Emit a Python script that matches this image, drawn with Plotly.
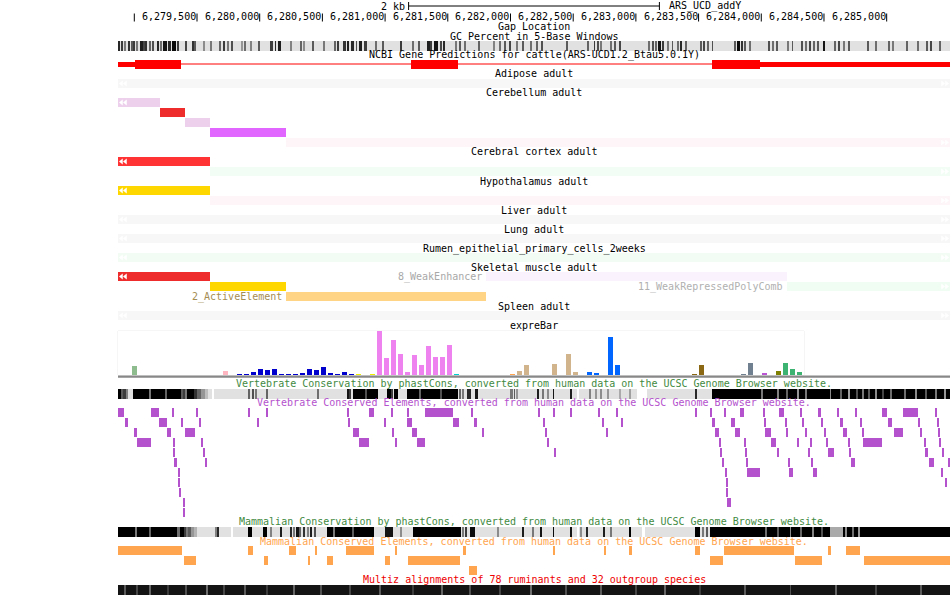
import plotly.graph_objects as go

# ======================= DATA =======================
VIEW_START = 6278870
VIEW_END = 6285505

ruler_ticks = [6279000, 6279500, 6280000, 6280500, 6281000, 6281500, 6282000,
               6282500, 6283000, 6283500, 6284000, 6284500, 6285000]
ruler_labelled = [False] + [True] * 12
scale_bar_bp = 2000
scale_label = "2 kb"
assembly_label = "ARS_UCD_addY"

# NCBI gene prediction (exons + coding region)
gene_exon_starts = [6278870, 6281207, 6283607]
gene_exon_ends = [6279372, 6281582, 6285505]
gene_thick_start = 6279006
gene_thick_end = 6283990

# chromatin-state tracks
chrom_tissues = ["Adipose adult", "Cerebellum adult", "Cerebral cortex adult",
                 "Hypothalamus adult", "Liver adult", "Lung adult",
                 "Rumen_epithelial_primary_cells_2weeks", "Skeletal muscle adult",
                 "Spleen adult"]
chrom_tissue = [0, 1, 1, 1, 1, 1, 2, 2, 3, 3, 4, 5, 6, 7, 7, 7, 7, 7, 8]
chrom_row = [0, 0, 1, 2, 3, 4, 0, 1, 0, 1, 0, 0, 0, 0, 0, 1, 1, 2, 0]
chrom_start = [6278870, 6278870, 6279205, 6279404, 6279604, 6280210, 6278870, 6279604,
               6278870, 6279604, 6278870, 6278870, 6278870, 6278870, 6281805, 6279604,
               6284205, 6280210, 6278870]
chrom_end = [6285505, 6279205, 6279404, 6279604, 6280210, 6285505, 6279604, 6285505,
             6279604, 6285505, 6285505, 6285505, 6285505, 6279604, 6284205, 6280210,
             6285505, 6281805, 6285505]
chrom_color = ["#F7F7F7", "#ECD0EC", "#EE2C2C", "#ECD0EC", "#E066FF", "#FDF5F8",
               "#FF3333", "#F2FDF5", "#FFD700", "#FDF5F8", "#F7F7F7", "#F7F7F7",
               "#F2FCF4", "#EE2C2C", "#FAF2FC", "#FFD700", "#F0FDF3", "#FFD585",
               "#F7F7F7"]
chrom_label = [""] * 14 + ["8_WeakEnhancer", "", "11_WeakRepressedPolyComb",
                           "2_ActiveElement", ""]

# expreBar (tissue expression bars)
expr_idx = [2, 15, 17, 18, 19, 20, 21, 22, 23, 24, 25, 26, 27, 28, 29, 30, 31, 32, 33,
            34, 36, 37, 38, 39, 40, 41, 42, 43, 44, 45, 46, 47, 48, 56, 57, 58, 62,
            64, 65, 67, 68, 70, 71, 82, 83, 89, 90, 92, 94, 95, 96, 97]
expr_val = [9, 4, 1, 1, 3, 6, 5, 6, 1, 1, 1, 2, 6, 5, 8, 2, 1, 3, 1,
            1, 1, 44, 17, 35, 21, 3, 20, 10, 29, 18, 18, 30, 1, 1, 4, 10, 11,
            21, 3, 3, 2, 38, 10, 1, 10, 1, 12, 2, 4, 12, 6, 3]
expr_color = (["#8FBC8F", "#FFB6C1"] + ["#0000CD"] * 17 + ["#EEEE00"] * 2 +
              ["#EE82EE"] * 11 + ["#00CED1", "#FFA54F"] + ["#D2B48C"] * 5 +
              ["#0066FF"] * 4 + ["#8B6914"] * 2 + ["#708090"] * 2 +
              ["#BA55D3", "#808000"] + ["#3CB371"] * 3)

# Vertebrate conserved elements (start, end, row)
vce_start = [6278870, 6279133, 6279303, 6279494, 6279909, 6280053, 6280699, 6280872, 6281050,
             6281177, 6281318, 6281688, 6282222, 6282342, 6282477, 6282700, 6282844, 6283474,
             6283594, 6283705, 6283830, 6284016, 6284141, 6284311, 6284452, 6284606, 6284750,
             6284963, 6285130, 6285388,
             6278926, 6279197, 6279375, 6279518, 6279981, 6280707, 6280994, 6281175, 6281542,
             6281709, 6282262, 6282732, 6282884, 6283607, 6283759, 6284024, 6284192, 6284327,
             6284479, 6284628, 6284790, 6285011, 6285252, 6285404,
             6278998, 6279261, 6279404, 6280744, 6281058, 6281215, 6281775, 6282278, 6282764,
             6283631, 6283791, 6284030, 6284200, 6284351, 6284503, 6284652, 6284806, 6285059,
             6285268, 6285412,
             6279022, 6279311, 6279534, 6280792, 6281082, 6281255, 6282294, 6283665, 6283865,
             6284078, 6284287, 6284391, 6284519, 6284694, 6284811, 6285300, 6285420,
             6279311, 6279550, 6282350, 6283673, 6283873, 6284128, 6284375, 6284532, 6284702,
             6285306, 6285444,
             6279317, 6279566, 6283689, 6283881, 6284216, 6284399, 6284716, 6285338, 6285492,
             6279351, 6283713, 6283886, 6284221, 6284413, 6285436,
             6279351, 6283721, 6285465,
             6279356, 6283721,
             6279391, 6283727,
             6279388]
vce_end = [6278918, 6279197, 6279311, 6279502, 6279917, 6280061, 6280707, 6280912, 6281058,
           6281185, 6281542, 6281696, 6282230, 6282350, 6282485, 6282708, 6282852, 6283482,
           6283602, 6283713, 6283862, 6284024, 6284181, 6284319, 6284476, 6284614, 6284766,
           6285003, 6285250, 6285396,
           6278950, 6279261, 6279383, 6279526, 6279989, 6280715, 6281002, 6281215, 6281590,
           6281733, 6282270, 6282740, 6282892, 6283631, 6283791, 6284032, 6284200, 6284335,
           6284487, 6284652, 6284798, 6285043, 6285260, 6285412,
           6279022, 6279293, 6279484, 6280792, 6281066, 6281255, 6281783, 6282286, 6282772,
           6283663, 6283830, 6284078, 6284208, 6284359, 6284511, 6284684, 6284814, 6285130,
           6285276, 6285420,
           6279133, 6279319, 6279542, 6280872, 6281090, 6281318, 6282302, 6283673, 6283873,
           6284118, 6284295, 6284399, 6284527, 6284702, 6284963, 6285308, 6285428,
           6279319, 6279558, 6282358, 6283681, 6283881, 6284136, 6284383, 6284580, 6284710,
           6285330, 6285452,
           6279341, 6279574, 6283697, 6283889, 6284224, 6284407, 6284748, 6285378, 6285500,
           6279359, 6283721, 6283990, 6284253, 6284444, 6285444,
           6279359, 6283729, 6285481,
           6279372, 6283729,
           6279399, 6283759,
           6279404]
vce_row = ([0] * 30 + [1] * 24 + [2] * 20 + [3] * 17 + [4] * 11 + [5] * 9 + [6] * 6 +
           [7] * 3 + [8] * 2 + [9] * 2 + [10])

# Mammalian conserved elements
mce_start = [6278870, 6279907, 6280234, 6280441, 6280688, 6281079, 6281621, 6282339, 6282746,
             6282945, 6283472, 6283703, 6284532, 6284676,
             6279396, 6280034, 6280393, 6280537, 6280999, 6281183, 6283591, 6284269, 6284819,
             6281669]
mce_end = [6279380, 6279947, 6280290, 6280457, 6280912, 6281095, 6281645, 6282355, 6282762,
           6282969, 6283511, 6284261, 6284556, 6284787,
           6279492, 6280066, 6280401, 6280585, 6281039, 6281597, 6283695, 6284484, 6285505,
           6281733]
mce_row = [0] * 14 + [1] * 9 + [2]

# density tracks: background grey + stripes (start, width bp, grey level 0-255)
gc_bg = 225
gc_start = [6278870, 6278894, 6278918, 6278950, 6278974, 6278990, 6279021, 6279045, 6279077,
            6279093, 6279125, 6279149, 6279181, 6279205, 6279229, 6279269, 6279301, 6279348,
            6279412, 6279468, 6279484, 6279548, 6279604, 6279683, 6279715, 6279747, 6279779,
            6279851, 6279875, 6279923, 6279987, 6280082, 6280122, 6280146, 6280242, 6280329,
            6280353, 6280425, 6280505, 6280593, 6280617, 6280664, 6280704, 6280728, 6280768,
            6280792, 6280832, 6280920, 6280983, 6281119, 6281215, 6281263, 6281334, 6281366,
            6281390, 6281438, 6281462, 6281558, 6281597, 6281637, 6281741, 6281861, 6281916,
            6281956, 6281996, 6282044, 6282092, 6282156, 6282211, 6282251, 6282443, 6282618,
            6282666, 6282690, 6282714, 6282794, 6282826, 6282873, 6283097, 6283129, 6283153,
            6283176, 6283216, 6283256, 6283288, 6283328, 6283352, 6283392, 6283519, 6283543,
            6283575, 6283607, 6283783, 6283807, 6283846, 6283870, 6283910, 6284054, 6284086,
            6284118, 6284213, 6284245, 6284317, 6284349, 6284381, 6284413, 6284445, 6284500,
            6284580, 6284612, 6284652, 6284692, 6284851, 6284907, 6285011, 6285043, 6285162,
            6285242, 6285314, 6285346, 6285425]
gc_width = [16, 8, 8, 8, 8, 8, 8, 24, 8, 8, 8, 8, 16, 8, 32, 24, 32, 8, 8, 8, 8, 8, 8, 8, 8,
            8, 8, 8, 8, 8, 8, 24, 8, 24, 8, 8, 8, 8, 8, 8, 8, 24, 8, 24, 8, 24, 24, 8, 8, 8,
            8, 8, 24, 8, 32, 8, 8, 8, 8, 8, 8, 8, 8, 8, 8, 8, 8, 8, 8, 8, 8, 8, 8, 8, 8, 8,
            8, 8, 8, 8, 8, 24, 8, 8, 8, 8, 8, 8, 8, 8, 8, 8, 8, 24, 8, 8, 8, 8, 8, 8, 8, 8,
            8, 8, 8, 8, 8, 8, 16, 8, 8, 8, 8, 8, 8, 8, 8, 8, 8, 8, 8, 8]
gc_gray = [40, 60, 120, 50, 90, 60, 120, 30, 70, 50, 100, 80, 40, 110, 20, 40, 10, 60, 70,
           50, 90, 140, 120, 100, 60, 120, 80, 150, 110, 130, 90, 60, 40, 30, 130, 100, 140,
           90, 120, 100, 60, 50, 30, 40, 80, 30, 60, 110, 90, 60, 110, 90, 30, 60, 20, 70,
           40, 120, 90, 110, 100, 130, 110, 90, 70, 120, 90, 110, 100, 80, 90, 100, 60, 80,
           120, 110, 90, 70, 110, 80, 100, 20, 60, 120, 90, 110, 40, 100, 90, 70, 100, 80,
           90, 10, 50, 90, 110, 80, 110, 90, 120, 90, 80, 110, 70, 100, 90, 20, 100, 70,
           120, 90, 90, 110, 100, 120, 100, 110, 90, 70, 100]

vcons_bg = 225
vcons_start = [6278870, 6278894, 6278910, 6278934, 6278990, 6279125, 6279245, 6279372, 6279396,
               6279412, 6279420, 6279476, 6279500, 6279532, 6279564, 6279620, 6279907, 6279939,
               6279963, 6280058, 6280457, 6280696, 6280720, 6280744, 6280840, 6281015, 6281055,
               6281071, 6281175, 6281278, 6281438, 6281597, 6281621, 6281653, 6281717, 6281996,
               6282028, 6282044, 6282219, 6282259, 6282299, 6282339, 6282475, 6282531, 6282634,
               6282674, 6282714, 6282770, 6282873, 6282953, 6283009, 6283472, 6283607, 6283998,
               6284014, 6284126, 6284205, 6284285, 6284349, 6284548, 6284628, 6284692, 6284756,
               6284811, 6284851, 6284907, 6284963, 6285027, 6285146, 6285226, 6285306, 6285386,
               6285465]
vcons_width = [24, 16, 24, 16, 382, 8, 8, 16, 8, 8, 56, 24, 32, 32, 24, 16, 8, 8, 8, 8, 8,
               16, 8, 199, 8, 32, 8, 32, 407, 8, 8, 8, 8, 32, 24, 24, 8, 8, 8, 8, 8, 8, 8,
               16, 8, 8, 8, 8, 8, 8, 80, 8, 391, 16, 1491, 8, 8, 8, 8, 8, 8, 8, 16, 8, 16, 8,
               16, 8, 8, 8, 8, 8, 8]
vcons_gray = [0, 90, 60, 130, 0, 120, 100, 90, 60, 120, 0, 50, 100, 150, 190, 255, 100, 80,
              120, 100, 110, 20, 60, 0, 80, 0, 60, 0, 0, 100, 80, 100, 120, 40, 20, 120, 90,
              150, 30, 120, 140, 20, 30, 255, 130, 150, 140, 150, 170, 160, 255, 40, 0, 120,
              0, 130, 100, 150, 120, 140, 100, 160, 80, 120, 90, 140, 70, 110, 110, 140, 90,
              120, 150]

mcons_bg = 225
mcons_start = [6278870, 6279006, 6279125, 6279340, 6279396, 6279412, 6279428, 6279452, 6279476,
               6279643, 6279667, 6279771, 6279907, 6280027, 6280082, 6280162, 6280242, 6280266,
               6280290, 6280321, 6280345, 6280385, 6280401, 6280433, 6280537, 6280585, 6280744,
               6280999, 6281119, 6281223, 6281621, 6281645, 6281677, 6281900, 6282092, 6282179,
               6282243, 6282339, 6282475, 6282531, 6282562, 6282610, 6282738, 6282794, 6282953,
               6283049, 6283472, 6283535, 6283567, 6283591, 6284030, 6284126, 6284229, 6284309,
               6284405, 6284484, 6284548, 6284668, 6284724, 6284772]
mcons_width = [526, 8, 8, 24, 16, 16, 24, 24, 24, 16, 8, 16, 32, 32, 16, 16, 16, 8, 24, 8,
               16, 8, 16, 16, 375, 8, 8, 64, 8, 382, 8, 8, 40, 8, 8, 8, 8, 8, 8, 8, 8, 8, 8,
               8, 8, 24, 40, 8, 8, 1914, 8, 8, 8, 8, 8, 8, 104, 8, 8, 8]
mcons_gray = [0, 120, 100, 110, 60, 120, 90, 150, 180, 130, 40, 255, 0, 0, 130, 30, 40, 120,
              20, 100, 50, 130, 30, 80, 0, 120, 90, 20, 140, 0, 120, 60, 10, 140, 30, 120,
              20, 10, 20, 255, 140, 40, 30, 120, 0, 255, 0, 120, 90, 0, 110, 90, 140, 100,
              130, 80, 170, 140, 110, 150]

multiz_bg = 20
multiz_start = [6278918, 6279014, 6279125, 6279261, 6279412, 6279572, 6279715, 6279875,
                6280058, 6280273, 6280481, 6280720, 6280959, 6281215, 6281446, 6281677,
                6281916, 6282156, 6282435, 6282714, 6282993, 6283232, 6283511, 6283870,
                6284229, 6284588, 6284907, 6285266]
multiz_width = [8] * 28
multiz_gray = [90, 70, 100, 60, 80, 110, 70, 90, 60, 100, 80, 70, 90, 60, 100, 80, 70, 110,
               80, 90, 70, 100, 60, 90, 80, 100, 70, 90]

# ======================= LAYOUT / STYLE =======================
W, H = 950, 595
LEFT = 118
FONT = "DejaVu Sans Mono"
FS = 10
ROW = 10
BAR = 9

track_label_y = [73.5, 92.5, 151.5, 181, 210, 229.5, 248.5, 267.5, 306]
track_row0_top = [79, 98, 157, 186, 215, 234, 253, 272, 311]
label_colors = {"8_WeakEnhancer": "#A8A8A8", "11_WeakRepressedPolyComb": "#B0B0B0",
                "2_ActiveElement": "#A58D52"}

fig = go.Figure()
annotations = []
shapes = []


def text(x, y, s, color="black", xref="paper", xanchor="center", xshift=0):
    annotations.append(dict(x=x, y=y, xref=xref, yref="y", text=s, showarrow=False,
                            xanchor=xanchor, yanchor="middle", xshift=xshift,
                            borderpad=0, borderwidth=0,
                            font=dict(family=FONT, size=FS, color=color)))


def hbars(starts, ends, ys, colors, h=BAR):
    fig.add_trace(go.Bar(orientation="h", base=starts,
                         x=[e - s for s, e in zip(starts, ends)], y=ys, width=h,
                         marker=dict(color=colors, line=dict(width=0)),
                         hoverinfo="skip", showlegend=False))


def density(bg, starts, widths, grays, top):
    yc = top + ROW / 2
    hbars([VIEW_START], [VIEW_END], [yc], [f"rgb({bg},{bg},{bg})"], ROW)
    hbars(starts, [s + w for s, w in zip(starts, widths)], [yc] * len(starts),
          [f"rgb({g},{g},{g})" for g in grays], ROW)


def vlines(xs, y0, y1, color="black"):
    px, py = [], []
    for xv in xs:
        px += [xv, xv, None]
        py += [y0, y1, None]
    fig.add_trace(go.Scatter(x=px, y=py, mode="lines", line=dict(color=color, width=1),
                             hoverinfo="skip", showlegend=False))


# ---- top ruler ----
mid = (VIEW_START + VIEW_END) / 2
sb0, sb1 = mid - scale_bar_bp / 2, mid + scale_bar_bp / 2
fig.add_trace(go.Scatter(x=[sb0, sb1], y=[6, 6], mode="lines",
                         line=dict(color="black", width=1), hoverinfo="skip",
                         showlegend=False))
vlines([sb0, sb1], 2, 10)
text(sb0, 6, scale_label, xref="x", xanchor="right", xshift=-4)
text(sb1, 6, assembly_label, xref="x", xanchor="left", xshift=10)
vlines(ruler_ticks, 13.5, 21.5)
for t, lab in zip(ruler_ticks, ruler_labelled):
    if lab:
        text(t, 16.8, f"{t:,}", xref="x", xanchor="right", xshift=-1)

text(0.5, 26.4, "Gap Location")
text(0.5, 36.8, "GC Percent in 5-Base Windows")
density(gc_bg, gc_start, gc_width, gc_gray, 41)

# ---- gene ----
text(0.5, 55, "NCBI Gene Predictions for cattle(ARS-UCD1.2_Btau5.0.1Y)")
GENE_Y = 64
fig.add_trace(go.Scatter(x=[gene_exon_starts[0], gene_exon_ends[-1]], y=[GENE_Y, GENE_Y],
                         mode="lines", line=dict(color="#FF0000", width=1),
                         hoverinfo="skip", showlegend=False))
thin_s, thin_e, thick_s, thick_e = [], [], [], []
for s, e in zip(gene_exon_starts, gene_exon_ends):
    cs, ce = max(s, gene_thick_start), min(e, gene_thick_end)
    if cs < ce:
        thick_s.append(cs); thick_e.append(ce)
    if s < gene_thick_start:
        thin_s.append(s); thin_e.append(min(e, gene_thick_start))
    if e > gene_thick_end:
        thin_s.append(max(s, gene_thick_end)); thin_e.append(e)
hbars(thin_s, thin_e, [GENE_Y] * len(thin_s), "#FF0000", 5)
hbars(thick_s, thick_e, [GENE_Y + 0.5] * len(thick_s), "#FF0000", 9)

# ---- chromatin tracks ----
for i, name in enumerate(chrom_tissues):
    text(0.5, track_label_y[i], name)
ys = [track_row0_top[t] + ROW * r + BAR / 2 for t, r in zip(chrom_tissue, chrom_row)]
hbars(chrom_start, chrom_end, ys, chrom_color)
bppx = (VIEW_END - VIEW_START) / (W - LEFT)
lx, rx, ly, ry = [], [], [], []
for s, e, y in zip(chrom_start, chrom_end, ys):
    if s <= VIEW_START:
        lx += [VIEW_START + 3.5 * bppx, VIEW_START + 7.5 * bppx]; ly += [y, y]
    if e >= VIEW_END:
        rx += [VIEW_END - 7.5 * bppx, VIEW_END - 3.5 * bppx]; ry += [y, y]
fig.add_trace(go.Scatter(x=lx, y=ly, mode="markers", hoverinfo="skip", showlegend=False,
                         marker=dict(symbol="triangle-left", size=5, color="white",
                                     line=dict(width=0))))
fig.add_trace(go.Scatter(x=rx, y=ry, mode="markers", hoverinfo="skip", showlegend=False,
                         marker=dict(symbol="triangle-right", size=5, color="white",
                                     line=dict(width=0))))
for s, y, lab in zip(chrom_start, ys, chrom_label):
    if lab:
        text(s, y, lab, color=label_colors[lab], xref="x", xanchor="right", xshift=-4)

# ---- expreBar ----
text(0.5, 325, "expreBar")
fig.add_trace(go.Bar(x=expr_idx, y=expr_val, width=5 / 7, xaxis="x2", yaxis="y2",
                     marker=dict(color=expr_color, line=dict(width=0)),
                     hoverinfo="skip", showlegend=False))
shapes.append(dict(type="rect", xref="x2 domain", yref="y2 domain", x0=0, x1=1, y0=0,
                   y1=1, line=dict(color="#ECECEC", width=1), layer="below"))
shapes.append(dict(type="rect", xref="paper", yref="y", x0=0, x1=1, y0=375.6, y1=377.8,
                   fillcolor="#888888", line=dict(width=0)))

# ---- conservation ----
text(0.5, 383.5, "Vertebrate Conservation by phastCons, converted from human data on the "
     "UCSC Genome Browser website.", color="#3F8A3F")
density(vcons_bg, vcons_start, vcons_width, vcons_gray, 389)
text(0.5, 402.5, "Vertebrate Conserved Elements, converted from human data on the UCSC "
     "Genome Browser website.", color="#B452CD")
hbars(vce_start, vce_end, [408 + ROW * r + BAR / 2 for r in vce_row], "#B452CD")

text(0.5, 521.5, "Mammalian Conservation by phastCons, converted from human data on the "
     "UCSC Genome Browser website.", color="#3F8A3F")
density(mcons_bg, mcons_start, mcons_width, mcons_gray, 527)
text(0.5, 541, "Mammalian Conserved Elements, converted from human data on the UCSC "
     "Genome Browser website.", color="#FFA54F")
hbars(mce_start, mce_end, [546 + ROW * r + BAR / 2 for r in mce_row], "#FFA54F")

text(0.5, 579.5, "Multiz alignments of 78 ruminants and 32 outgroup species", color="#EE0000")
density(multiz_bg, multiz_start, multiz_width, multiz_gray, 585)

# ======================= FIGURE LAYOUT =======================
ex_w = 98 * 7
fig.update_layout(
    width=W, height=H, margin=dict(l=LEFT, r=0, t=0, b=0, pad=0),
    paper_bgcolor="white", plot_bgcolor="white", barmode="overlay", bargap=0,
    showlegend=False,
    xaxis=dict(range=[VIEW_START, VIEW_END], visible=False, fixedrange=True),
    yaxis=dict(range=[H, 0], visible=False, fixedrange=True),
    xaxis2=dict(domain=[0, ex_w / (W - LEFT)], anchor="y2", visible=False,
                range=[-2.5 / 7, 98 - 2.5 / 7], fixedrange=True),
    yaxis2=dict(domain=[1 - 375 / H, 1 - 331 / H], anchor="x2", visible=False,
                range=[0, 44], fixedrange=True),
    annotations=annotations, shapes=shapes,
)
fig.write_html("out.html", config=dict(displayModeBar=False),
               post_script="document.body.style.margin='0';"
                           "document.body.style.overflow='hidden';")
